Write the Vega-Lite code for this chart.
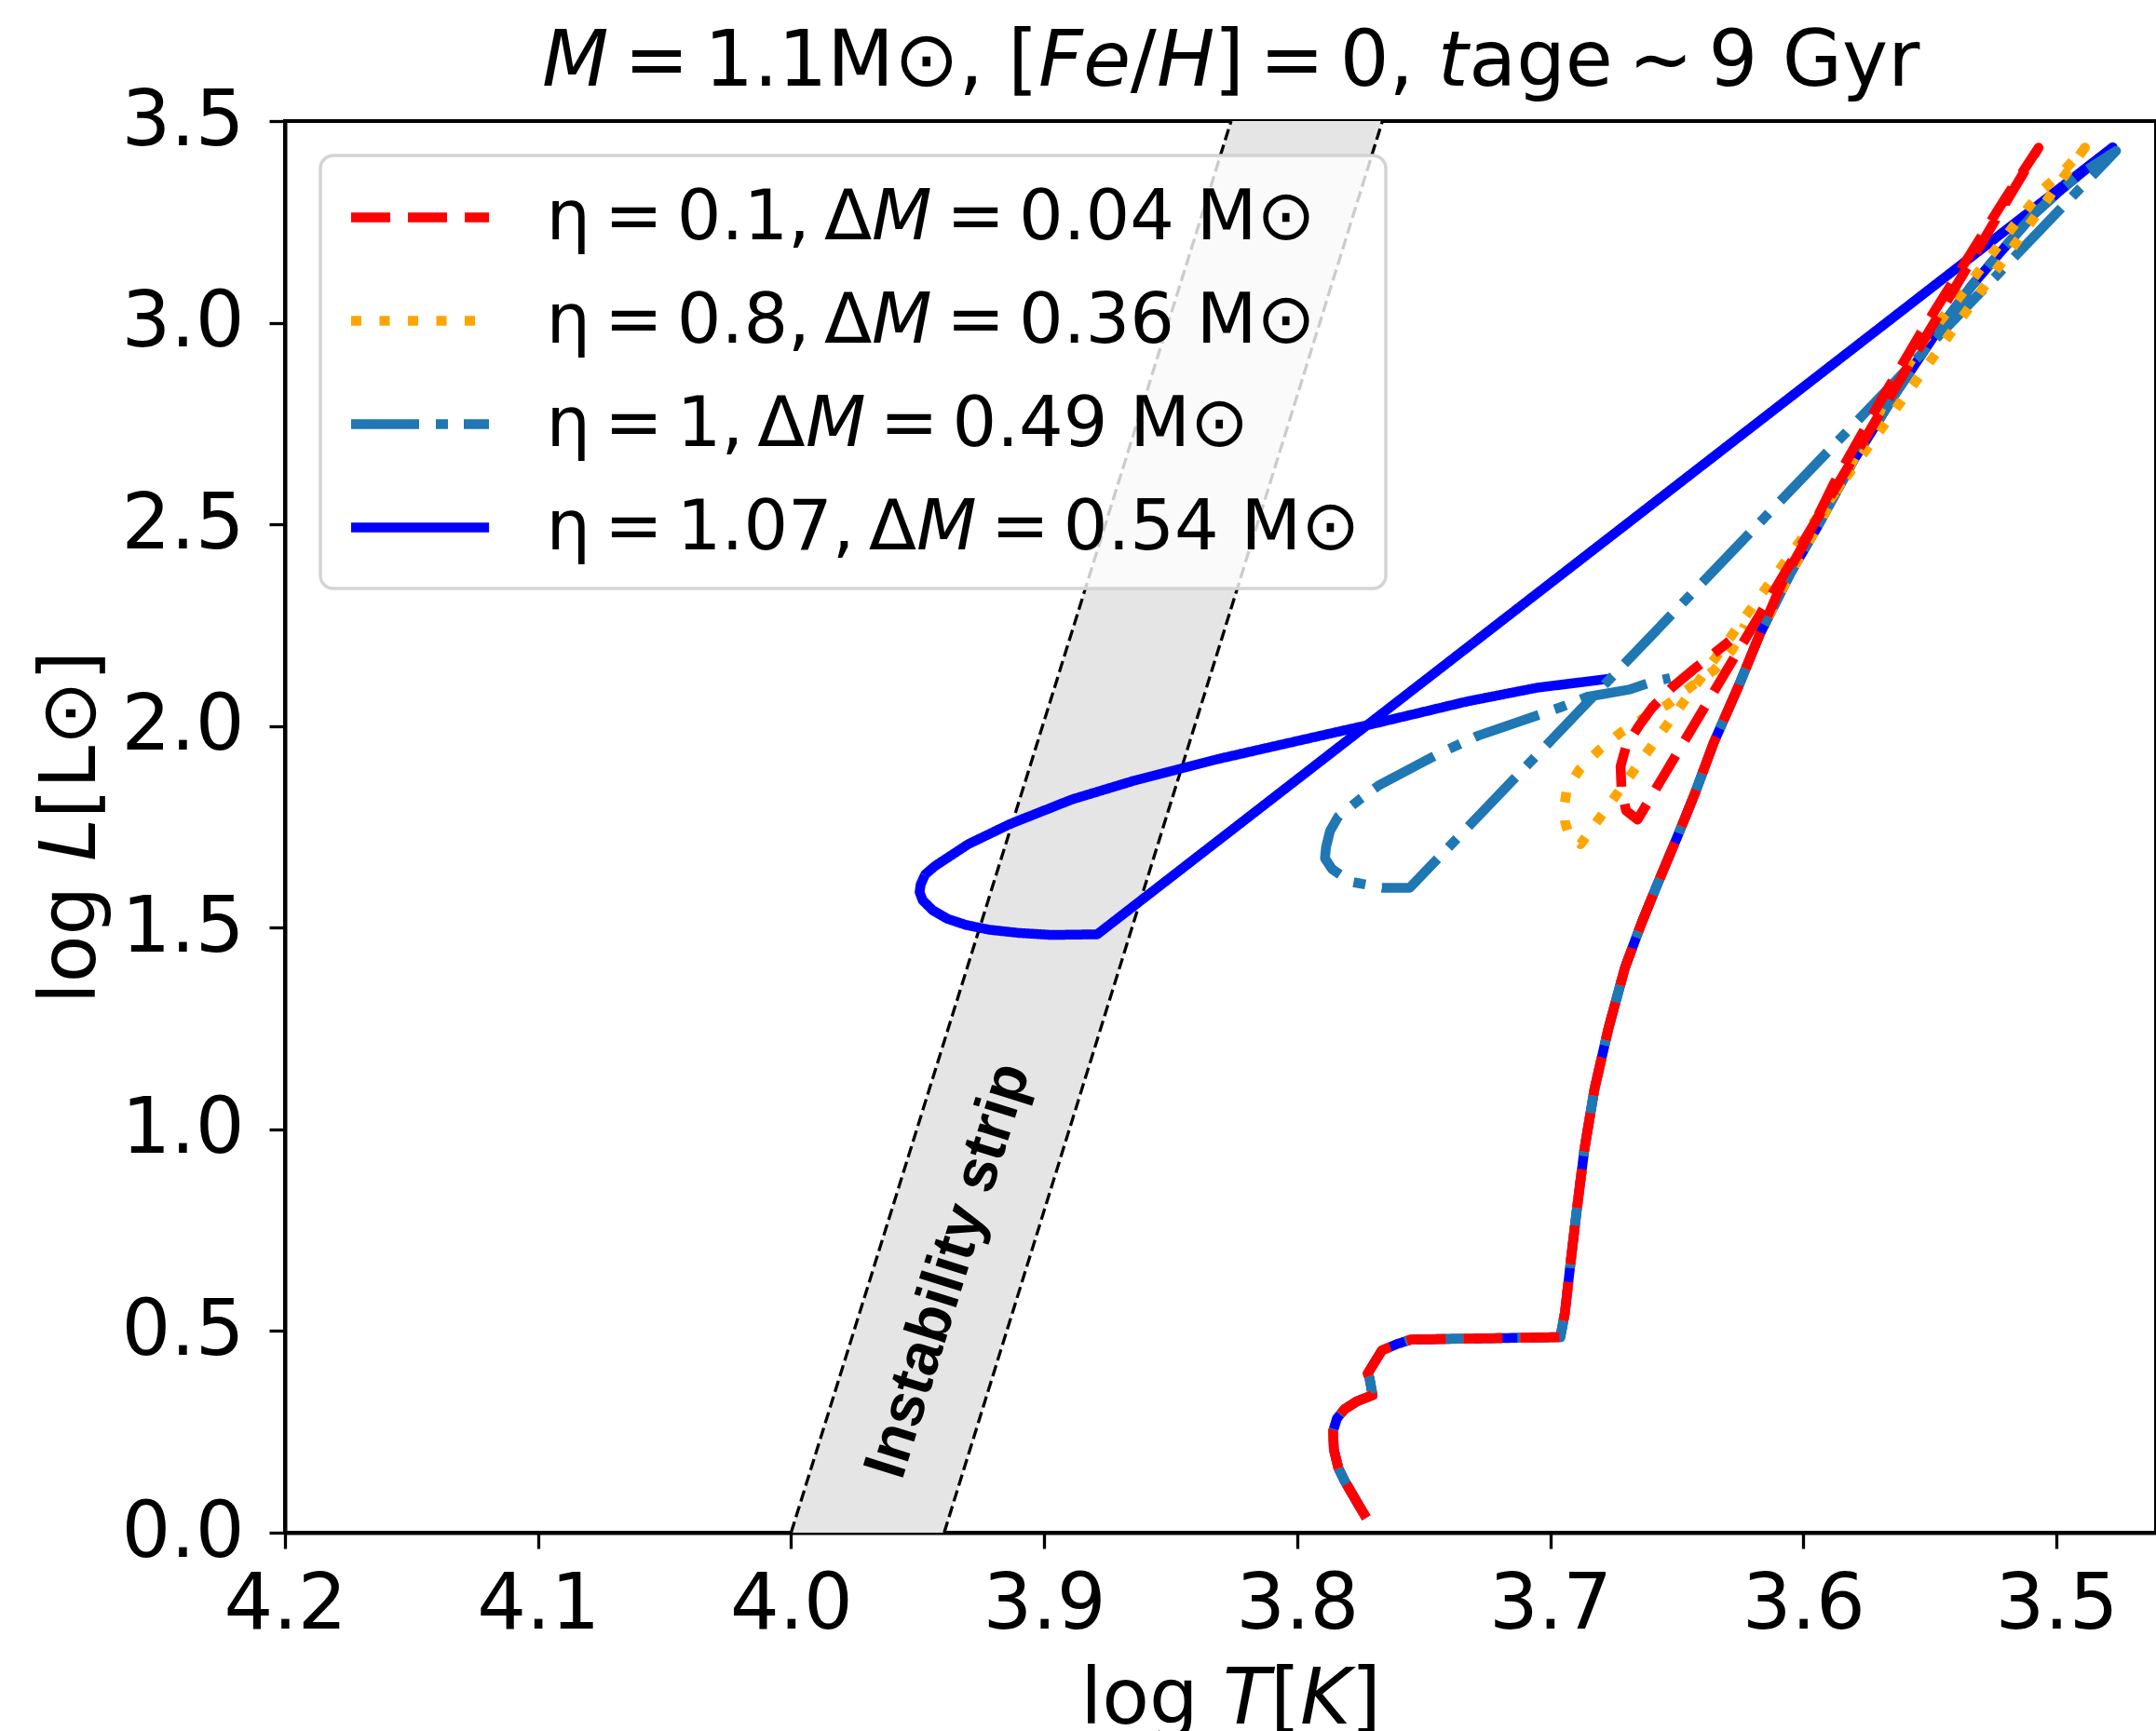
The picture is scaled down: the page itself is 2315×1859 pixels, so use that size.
{
"$schema": "https://vega.github.io/schema/vega-lite/v6.json",
"autosize": {"type": "none"},
"padding": {"left": 306, "top": 130, "right": 0, "bottom": 213},
"width": 2009,
"height": 1516,
"background": "white",
"title": {"text": "𝘔\u2009=\u20091.1M⊙, [𝘍𝘦/𝘏]\u2009=\u20090, 𝘵age\u2009∼\u20099 Gyr", "font": "DejaVu Sans", "fontSize": 83, "fontWeight": "normal", "color": "black", "anchor": "middle", "frame": "group", "baseline": "alphabetic", "offset": 0, "dy": 86, "dx": 11},
"config": {
  "view": {"stroke": "black", "strokeWidth": 4},
  "font": "DejaVu Sans",
  "axis": {"labelFont": "DejaVu Sans", "labelFontSize": 83, "labelColor": "black", "titleFont": "DejaVu Sans", "titleFontSize": 83, "titleFontWeight": "normal", "titleColor": "black", "tickColor": "black", "tickWidth": 3.3, "tickSize": 17, "domainColor": "black", "domainWidth": 4, "grid": false, "labelFlush": false, "labelOverlap": false}
},
"datasets": {
  "strip": [{"T": 4.0, "L": 0, "L2": 0}, {"T": 3.9395, "L": 0, "L2": 1.2177}, {"T": 3.8261, "L": 2.2916, "L2": 3.5}, {"T": 3.7663, "L": 3.5, "L2": 3.5}],
  "edges": [{"e": "l", "L": 0, "T": 4.0}, {"e": "l", "L": 3.5, "T": 3.8261}, {"e": "r", "L": 0, "T": 3.9395}, {"e": "r", "L": 3.5, "T": 3.7663}],
  "lab": [{"T": 3.938, "L": 0.65, "txt": "Instability strip"}],
  "tracks": [
{"s":"a","i":0,"T":3.7727,"L":0.037},{"s":"a","i":1,"T":3.7763,"L":0.075},{"s":"a","i":2,"T":3.7813,"L":0.129},{"s":"a","i":3,"T":3.7837,"L":0.160},{"s":"a","i":4,"T":3.7855,"L":0.206},{"s":"a","i":5,"T":3.7858,"L":0.252},{"s":"a","i":6,"T":3.7843,"L":0.283},{"s":"a","i":7,"T":3.7813,"L":0.306},{"s":"a","i":8,"T":3.7763,"L":0.326},{"s":"a","i":9,"T":3.7702,"L":0.341},{"s":"a","i":10,"T":3.7714,"L":0.383},{"s":"a","i":11,"T":3.7721,"L":0.395},{"s":"a","i":12,"T":3.7665,"L":0.452},{"s":"a","i":13,"T":3.7604,"L":0.468},{"s":"a","i":14,"T":3.7549,"L":0.479},{"s":"a","i":15,"T":3.7236,"L":0.482},{"s":"a","i":16,"T":3.6960,"L":0.485},{"s":"a","i":17,"T":3.6942,"L":0.545},{"s":"a","i":18,"T":3.6917,"L":0.683},{"s":"a","i":19,"T":3.6895,"L":0.800},{"s":"a","i":20,"T":3.6865,"L":0.950},{"s":"a","i":21,"T":3.6825,"L":1.100},{"s":"a","i":22,"T":3.6770,"L":1.250},{"s":"a","i":23,"T":3.6705,"L":1.400},{"s":"a","i":24,"T":3.6640,"L":1.510},{"s":"a","i":25,"T":3.6575,"L":1.610},{"s":"a","i":26,"T":3.6500,"L":1.722},{"s":"a","i":27,"T":3.6430,"L":1.830},{"s":"a","i":28,"T":3.6353,"L":1.960},{"s":"a","i":29,"T":3.6255,"L":2.100},{"s":"a","i":30,"T":3.6170,"L":2.230},
{"s":"a","i":31,"T":3.6080,"L":2.360},{"s":"a","i":32,"T":3.5990,"L":2.460},{"s":"a","i":33,"T":3.5880,"L":2.600},{"s":"a","i":34,"T":3.5700,"L":2.800},{"s":"a","i":35,"T":3.5530,"L":2.980},{"s":"a","i":36,"T":3.5350,"L":3.160},{"s":"a","i":37,"T":3.5200,"L":3.310},{"s":"a","i":38,"T":3.5070,"L":3.434},{"s":"a","i":39,"T":3.6655,"L":1.768},{"s":"a","i":40,"T":3.6700,"L":1.790},{"s":"a","i":41,"T":3.6718,"L":1.840},{"s":"a","i":42,"T":3.6722,"L":1.900},{"s":"a","i":43,"T":3.6700,"L":1.950},{"s":"a","i":44,"T":3.6650,"L":2.000},{"s":"a","i":45,"T":3.6598,"L":2.045},{"s":"a","i":46,"T":3.6520,"L":2.095},{"s":"a","i":47,"T":3.6438,"L":2.138},{"s":"a","i":48,"T":3.6377,"L":2.168},{"s":"a","i":49,"T":3.6291,"L":2.211},
{"s":"b","i":0,"T":3.7727,"L":0.037},{"s":"b","i":1,"T":3.7763,"L":0.075},{"s":"b","i":2,"T":3.7813,"L":0.129},{"s":"b","i":3,"T":3.7837,"L":0.160},{"s":"b","i":4,"T":3.7855,"L":0.206},{"s":"b","i":5,"T":3.7858,"L":0.252},{"s":"b","i":6,"T":3.7843,"L":0.283},{"s":"b","i":7,"T":3.7813,"L":0.306},{"s":"b","i":8,"T":3.7763,"L":0.326},{"s":"b","i":9,"T":3.7702,"L":0.341},{"s":"b","i":10,"T":3.7714,"L":0.383},{"s":"b","i":11,"T":3.7721,"L":0.395},{"s":"b","i":12,"T":3.7665,"L":0.452},{"s":"b","i":13,"T":3.7604,"L":0.468},{"s":"b","i":14,"T":3.7549,"L":0.479},{"s":"b","i":15,"T":3.7236,"L":0.482},{"s":"b","i":16,"T":3.6960,"L":0.485},{"s":"b","i":17,"T":3.6942,"L":0.545},{"s":"b","i":18,"T":3.6917,"L":0.683},{"s":"b","i":19,"T":3.6895,"L":0.800},{"s":"b","i":20,"T":3.6865,"L":0.950},{"s":"b","i":21,"T":3.6825,"L":1.100},{"s":"b","i":22,"T":3.6770,"L":1.250},{"s":"b","i":23,"T":3.6705,"L":1.400},{"s":"b","i":24,"T":3.6640,"L":1.510},{"s":"b","i":25,"T":3.6575,"L":1.610},{"s":"b","i":26,"T":3.6500,"L":1.722},{"s":"b","i":27,"T":3.6430,"L":1.830},{"s":"b","i":28,"T":3.6353,"L":1.960},{"s":"b","i":29,"T":3.6255,"L":2.100},{"s":"b","i":30,"T":3.6170,"L":2.230},
{"s":"b","i":31,"T":3.6050,"L":2.380},{"s":"b","i":32,"T":3.5948,"L":2.490},{"s":"b","i":33,"T":3.5810,"L":2.650},{"s":"b","i":34,"T":3.5680,"L":2.800},{"s":"b","i":35,"T":3.5530,"L":2.950},{"s":"b","i":36,"T":3.5396,"L":3.053},{"s":"b","i":37,"T":3.5261,"L":3.165},{"s":"b","i":38,"T":3.5150,"L":3.255},{"s":"b","i":39,"T":3.5054,"L":3.330},{"s":"b","i":40,"T":3.4966,"L":3.380},{"s":"b","i":41,"T":3.4887,"L":3.434},{"s":"b","i":42,"T":3.6880,"L":1.707},{"s":"b","i":43,"T":3.6925,"L":1.728},{"s":"b","i":44,"T":3.6941,"L":1.761},{"s":"b","i":45,"T":3.6945,"L":1.800},{"s":"b","i":46,"T":3.6935,"L":1.840},{"s":"b","i":47,"T":3.6886,"L":1.891},{"s":"b","i":48,"T":3.6806,"L":1.941},{"s":"b","i":49,"T":3.6721,"L":1.984},{"s":"b","i":50,"T":3.6630,"L":2.020},{"s":"b","i":51,"T":3.6537,"L":2.053},{"s":"b","i":52,"T":3.6450,"L":2.095},{"s":"b","i":53,"T":3.6353,"L":2.138},{"s":"b","i":54,"T":3.6280,"L":2.190},{"s":"b","i":55,"T":3.6230,"L":2.250},
{"s":"c","i":0,"T":3.7727,"L":0.037},{"s":"c","i":1,"T":3.7763,"L":0.075},{"s":"c","i":2,"T":3.7813,"L":0.129},{"s":"c","i":3,"T":3.7837,"L":0.160},{"s":"c","i":4,"T":3.7855,"L":0.206},{"s":"c","i":5,"T":3.7858,"L":0.252},{"s":"c","i":6,"T":3.7843,"L":0.283},{"s":"c","i":7,"T":3.7813,"L":0.306},{"s":"c","i":8,"T":3.7763,"L":0.326},{"s":"c","i":9,"T":3.7702,"L":0.341},{"s":"c","i":10,"T":3.7714,"L":0.383},{"s":"c","i":11,"T":3.7721,"L":0.395},{"s":"c","i":12,"T":3.7665,"L":0.452},{"s":"c","i":13,"T":3.7604,"L":0.468},{"s":"c","i":14,"T":3.7549,"L":0.479},{"s":"c","i":15,"T":3.7236,"L":0.482},{"s":"c","i":16,"T":3.6960,"L":0.485},{"s":"c","i":17,"T":3.6942,"L":0.545},{"s":"c","i":18,"T":3.6917,"L":0.683},{"s":"c","i":19,"T":3.6895,"L":0.800},{"s":"c","i":20,"T":3.6865,"L":0.950},{"s":"c","i":21,"T":3.6825,"L":1.100},{"s":"c","i":22,"T":3.6770,"L":1.250},{"s":"c","i":23,"T":3.6705,"L":1.400},{"s":"c","i":24,"T":3.6640,"L":1.510},{"s":"c","i":25,"T":3.6575,"L":1.610},{"s":"c","i":26,"T":3.6500,"L":1.722},{"s":"c","i":27,"T":3.6430,"L":1.830},{"s":"c","i":28,"T":3.6353,"L":1.960},{"s":"c","i":29,"T":3.6255,"L":2.100},{"s":"c","i":30,"T":3.6170,"L":2.230},
{"s":"c","i":31,"T":3.6050,"L":2.380},{"s":"c","i":32,"T":3.5948,"L":2.490},{"s":"c","i":33,"T":3.5800,"L":2.660},{"s":"c","i":34,"T":3.5630,"L":2.830},{"s":"c","i":35,"T":3.5480,"L":2.970},{"s":"c","i":36,"T":3.5334,"L":3.092},{"s":"c","i":37,"T":3.5200,"L":3.190},{"s":"c","i":38,"T":3.5089,"L":3.269},{"s":"c","i":39,"T":3.4990,"L":3.325},{"s":"c","i":40,"T":3.4905,"L":3.369},{"s":"c","i":41,"T":3.4764,"L":3.426},{"s":"c","i":42,"T":3.7555,"L":1.599},{"s":"c","i":43,"T":3.7665,"L":1.599},{"s":"c","i":44,"T":3.7788,"L":1.614},{"s":"c","i":45,"T":3.7862,"L":1.645},{"s":"c","i":46,"T":3.7890,"L":1.672},{"s":"c","i":47,"T":3.7886,"L":1.699},{"s":"c","i":48,"T":3.7870,"L":1.740},{"s":"c","i":49,"T":3.7837,"L":1.776},{"s":"c","i":50,"T":3.7753,"L":1.818},{"s":"c","i":51,"T":3.7677,"L":1.853},{"s":"c","i":52,"T":3.7445,"L":1.930},{"s":"c","i":53,"T":3.7285,"L":1.976},{"s":"c","i":54,"T":3.7034,"L":2.030},{"s":"c","i":55,"T":3.6948,"L":2.049},{"s":"c","i":56,"T":3.6856,"L":2.072},{"s":"c","i":57,"T":3.6684,"L":2.091},{"s":"c","i":58,"T":3.6610,"L":2.107},{"s":"c","i":59,"T":3.6526,"L":2.119},
{"s":"d","i":0,"T":3.7727,"L":0.037},{"s":"d","i":1,"T":3.7763,"L":0.075},{"s":"d","i":2,"T":3.7813,"L":0.129},{"s":"d","i":3,"T":3.7837,"L":0.160},{"s":"d","i":4,"T":3.7855,"L":0.206},{"s":"d","i":5,"T":3.7858,"L":0.252},{"s":"d","i":6,"T":3.7843,"L":0.283},{"s":"d","i":7,"T":3.7813,"L":0.306},{"s":"d","i":8,"T":3.7763,"L":0.326},{"s":"d","i":9,"T":3.7702,"L":0.341},{"s":"d","i":10,"T":3.7714,"L":0.383},{"s":"d","i":11,"T":3.7721,"L":0.395},{"s":"d","i":12,"T":3.7665,"L":0.452},{"s":"d","i":13,"T":3.7604,"L":0.468},{"s":"d","i":14,"T":3.7549,"L":0.479},{"s":"d","i":15,"T":3.7236,"L":0.482},{"s":"d","i":16,"T":3.6960,"L":0.485},{"s":"d","i":17,"T":3.6942,"L":0.545},{"s":"d","i":18,"T":3.6917,"L":0.683},{"s":"d","i":19,"T":3.6895,"L":0.800},{"s":"d","i":20,"T":3.6865,"L":0.950},{"s":"d","i":21,"T":3.6825,"L":1.100},{"s":"d","i":22,"T":3.6770,"L":1.250},{"s":"d","i":23,"T":3.6705,"L":1.400},{"s":"d","i":24,"T":3.6640,"L":1.510},{"s":"d","i":25,"T":3.6575,"L":1.610},{"s":"d","i":26,"T":3.6500,"L":1.722},{"s":"d","i":27,"T":3.6430,"L":1.830},{"s":"d","i":28,"T":3.6353,"L":1.960},{"s":"d","i":29,"T":3.6255,"L":2.100},{"s":"d","i":30,"T":3.6170,"L":2.230},
{"s":"d","i":31,"T":3.6050,"L":2.380},{"s":"d","i":32,"T":3.5948,"L":2.490},{"s":"d","i":33,"T":3.5800,"L":2.660},{"s":"d","i":34,"T":3.5630,"L":2.830},{"s":"d","i":35,"T":3.5480,"L":2.970},{"s":"d","i":36,"T":3.5334,"L":3.092},{"s":"d","i":37,"T":3.5200,"L":3.190},{"s":"d","i":38,"T":3.5089,"L":3.269},{"s":"d","i":39,"T":3.4990,"L":3.325},{"s":"d","i":40,"T":3.4905,"L":3.369},{"s":"d","i":41,"T":3.4777,"L":3.435},{"s":"d","i":42,"T":3.8790,"L":1.4836},{"s":"d","i":43,"T":3.8971,"L":1.482},{"s":"d","i":44,"T":3.9100,"L":1.487},{"s":"d","i":45,"T":3.9218,"L":1.495},{"s":"d","i":46,"T":3.9310,"L":1.507},{"s":"d","i":47,"T":3.9382,"L":1.522},{"s":"d","i":48,"T":3.9440,"L":1.543},{"s":"d","i":49,"T":3.9480,"L":1.568},{"s":"d","i":50,"T":3.9492,"L":1.588},{"s":"d","i":51,"T":3.9488,"L":1.607},{"s":"d","i":52,"T":3.9470,"L":1.632},{"s":"d","i":53,"T":3.9431,"L":1.653},{"s":"d","i":54,"T":3.9300,"L":1.707},{"s":"d","i":55,"T":3.9135,"L":1.757},{"s":"d","i":56,"T":3.8890,"L":1.818},{"s":"d","i":57,"T":3.8642,"L":1.865},{"s":"d","i":58,"T":3.8314,"L":1.918},{"s":"d","i":59,"T":3.7985,"L":1.965},{"s":"d","i":60,"T":3.7689,"L":2.007},{"s":"d","i":61,"T":3.7328,"L":2.061},{"s":"d","i":62,"T":3.7052,"L":2.095},{"s":"d","i":63,"T":3.6757,"L":2.118}
  ]
},
"encoding": {
  "x": {"field": "T", "type": "quantitative", "title": "log 𝘛[𝘒]", "scale": {"domain": [4.2, 3.4606], "nice": false, "zero": false},
        "axis": {"values": [4.2, 4.1, 4.0, 3.9, 3.8, 3.7, 3.6, 3.5], "format": ".1f", "labelPadding": 19, "titleX": 1015, "titleY": 204, "titleBaseline": "alphabetic", "titleAlign": "center", "titleAngle": 0}},
  "y": {"field": "L", "type": "quantitative", "title": "log 𝘓[L⊙]", "scale": {"domain": [0, 3.5], "nice": false, "zero": false},
        "axis": {"values": [0, 0.5, 1, 1.5, 2, 2.5, 3, 3.5], "format": ".1f", "labelPadding": 27, "titleX": -205, "titleY": 758, "titleAngle": 270, "titleBaseline": "alphabetic", "titleAlign": "center"}}
},
"layer": [
  {
    "data": {"name": "strip"},
    "mark": {"type": "area", "color": "#e5e5e5", "opacity": 1},
    "encoding": {"y2": {"field": "L2"}}
  },
  {
    "data": {"name": "edges"},
    "mark": {"type": "line", "color": "black", "strokeWidth": 3.3, "strokeDash": [12.3, 5.3]},
    "encoding": {"detail": {"field": "e", "type": "nominal"}}
  },
  {
    "data": {"name": "lab"},
    "mark": {"type": "text", "font": "Liberation Sans", "fontWeight": "bold", "fontSize": 65, "angle": 287.3, "align": "center", "baseline": "middle", "color": "black"},
    "encoding": {"text": {"field": "txt", "type": "nominal"}}
  },
  {
    "data": {"name": "tracks"},
    "transform": [{"filter": "datum.s == 'd'"}],
    "mark": {"type": "line", "strokeWidth": 10.5, "strokeJoin": "round"},
    "encoding": {
      "order": {"field": "i", "type": "quantitative"},
      "color": {"field": "s", "type": "nominal", "scale": {"domain": ["a", "b", "c", "d"], "range": ["#ff0000", "#ffa500", "#1f77b4", "#0000ff"]},
        "legend": {"title": null, "orient": "none", "legendX": 38, "legendY": 37, "symbolType": "M-1,0H3.42", "symbolSize": 4489, "symbolStrokeWidth": 10.5, "labelFont": "DejaVu Sans", "labelFontSize": 75, "labelColor": "black", "labelOffset": 137, "rowPadding": 34, "padding": 27.5, "fillColor": "rgba(255,255,255,0.8)", "strokeColor": "#d4d4d4", "cornerRadius": 14, "labelLimit": 3000,
          "encode": {"legend": {"update": {"strokeWidth": {"value": 3.5}}}},
          "labelExpr": "datum.label == 'a' ? 'η\u2009=\u20090.1,\u2009Δ𝘔\u2009=\u20090.04 M⊙' : datum.label == 'b' ? 'η\u2009=\u20090.8,\u2009Δ𝘔\u2009=\u20090.36 M⊙' : datum.label == 'c' ? 'η\u2009=\u20091,\u2009Δ𝘔\u2009=\u20090.49 M⊙' : 'η\u2009=\u20091.07,\u2009Δ𝘔\u2009=\u20090.54 M⊙'"}},
      "strokeDash": {"field": "s", "type": "nominal", "scale": {"domain": ["a", "b", "c", "d"], "range": [[42, 19], [11, 19.5], [73, 18, 13, 17], [1, 0]]},
        "legend": {"title": null, "orient": "none", "legendX": 38, "legendY": 37, "symbolType": "M-1,0H3.42", "symbolSize": 4489, "symbolStrokeWidth": 10.5, "labelFont": "DejaVu Sans", "labelFontSize": 75, "labelColor": "black", "labelOffset": 137, "rowPadding": 34, "padding": 27.5, "fillColor": "rgba(255,255,255,0.8)", "strokeColor": "#d4d4d4", "cornerRadius": 14, "labelLimit": 3000,
          "encode": {"legend": {"update": {"strokeWidth": {"value": 3.5}}}},
          "labelExpr": "datum.label == 'a' ? 'η\u2009=\u20090.1,\u2009Δ𝘔\u2009=\u20090.04 M⊙' : datum.label == 'b' ? 'η\u2009=\u20090.8,\u2009Δ𝘔\u2009=\u20090.36 M⊙' : datum.label == 'c' ? 'η\u2009=\u20091,\u2009Δ𝘔\u2009=\u20090.49 M⊙' : 'η\u2009=\u20091.07,\u2009Δ𝘔\u2009=\u20090.54 M⊙'"}}
    }
  },
  {
    "data": {"name": "tracks"},
    "transform": [{"filter": "datum.s == 'c'"}],
    "mark": {"type": "line", "strokeWidth": 10.5, "strokeJoin": "round"},
    "encoding": {
      "order": {"field": "i", "type": "quantitative"},
      "color": {"field": "s", "type": "nominal"},
      "strokeDash": {"field": "s", "type": "nominal"}
    }
  },
  {
    "data": {"name": "tracks"},
    "transform": [{"filter": "datum.s == 'b'"}],
    "mark": {"type": "line", "strokeWidth": 10.5, "strokeJoin": "round"},
    "encoding": {
      "order": {"field": "i", "type": "quantitative"},
      "color": {"field": "s", "type": "nominal"},
      "strokeDash": {"field": "s", "type": "nominal"}
    }
  },
  {
    "data": {"name": "tracks"},
    "transform": [{"filter": "datum.s == 'a'"}],
    "mark": {"type": "line", "strokeWidth": 10.5, "strokeJoin": "round"},
    "encoding": {
      "order": {"field": "i", "type": "quantitative"},
      "color": {"field": "s", "type": "nominal"},
      "strokeDash": {"field": "s", "type": "nominal"}
    }
  }
]
}
